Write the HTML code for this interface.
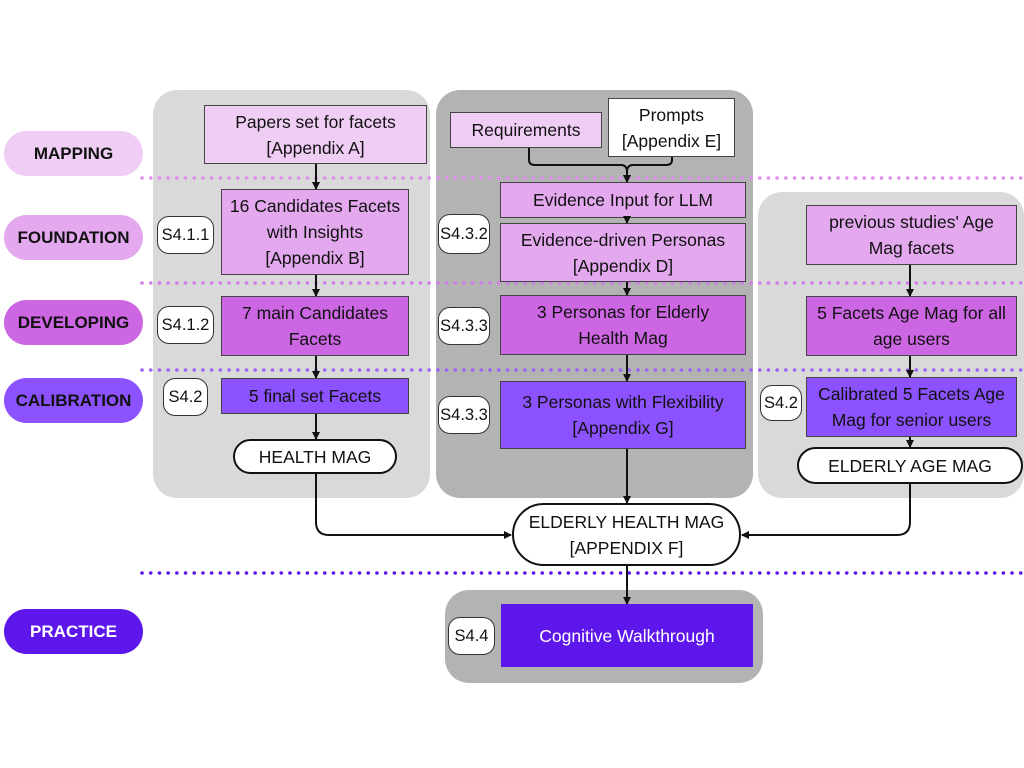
<!DOCTYPE html>
<html><head><meta charset="utf-8"><style>
body{margin:0;width:1024px;height:768px;background:#fff;position:relative;overflow:hidden;font-family:"Liberation Sans",sans-serif;}
div{position:absolute;box-sizing:border-box;}
.p{border-radius:24px;}
.lab{border-radius:23px;font-weight:bold;font-size:17px;display:flex;align-items:center;justify-content:center;color:#111;}
.b{border:1.5px solid #444;display:flex;align-items:center;justify-content:center;text-align:center;font-size:17.5px;line-height:26px;color:#111;}
.s{background:#fff;border:1.5px solid #333;border-radius:12px;display:flex;align-items:center;justify-content:center;font-size:16.5px;color:#111;}
.pill{background:#fff;border:2px solid #111;border-radius:20px;display:flex;align-items:center;justify-content:center;text-align:center;font-size:17.5px;line-height:26px;color:#111;}
.c1{background:#f0cdf5}.c2{background:#e3a8ee}.c3{background:#cc66e3}.c4{background:#8c52ff}.c5{background:#5e17eb}
</style></head><body>
<div class="p" style="left:153px;top:90px;width:277px;height:408px;background:#d9d9d9"></div>
<div class="p" style="left:436px;top:90px;width:317px;height:408px;background:#b3b3b3"></div>
<div class="p" style="left:758px;top:192px;width:266px;height:306px;background:#d9d9d9"></div>
<div class="p" style="left:445px;top:590px;width:318px;height:93px;background:#b3b3b3"></div>

<div class="lab c1" style="left:4px;top:131px;width:139px;height:45px">MAPPING</div>
<div class="lab c2" style="left:4px;top:215px;width:139px;height:45px">FOUNDATION</div>
<div class="lab c3" style="left:4px;top:300px;width:139px;height:45px">DEVELOPING</div>
<div class="lab c4" style="left:4px;top:378px;width:139px;height:45px">CALIBRATION</div>
<div class="lab c5" style="left:4px;top:609px;width:139px;height:45px;color:#fff">PRACTICE</div>

<svg width="1024" height="768" style="position:absolute;left:0;top:0">
<g stroke-linecap="round" stroke-width="3.5" stroke-dasharray="0.1 8.6" fill="none">
<line x1="142" y1="178" x2="1022" y2="178" stroke="#e08ef0"/>
<line x1="142" y1="283" x2="1022" y2="283" stroke="#d47ceb"/>
<line x1="142" y1="370" x2="1022" y2="370" stroke="#9c63f5"/>
<line x1="142" y1="573" x2="1022" y2="573" stroke="#5e17eb"/>
</g>
</svg>

<div class="b c1" style="left:204px;top:105px;width:223px;height:59px">Papers set for facets<br>[Appendix A]</div>
<div class="b c2" style="left:221px;top:189px;width:188px;height:86px">16 Candidates Facets<br>with Insights<br>[Appendix B]</div>
<div class="b c3" style="left:221px;top:296px;width:188px;height:60px">7 main Candidates<br>Facets</div>
<div class="b c4" style="left:221px;top:378px;width:188px;height:36px">5 final set Facets</div>
<div class="pill" style="left:233px;top:439px;width:164px;height:35px">HEALTH MAG</div>
<div class="s" style="left:157px;top:216px;width:57px;height:38px">S4.1.1</div>
<div class="s" style="left:157px;top:306px;width:57px;height:38px">S4.1.2</div>
<div class="s" style="left:163px;top:378px;width:45px;height:38px">S4.2</div>

<div class="b c1" style="left:450px;top:112px;width:152px;height:36px">Requirements</div>
<div class="b" style="left:608px;top:98px;width:127px;height:59px;background:#fff">Prompts<br>[Appendix E]</div>
<div class="b c2" style="left:500px;top:182px;width:246px;height:36px">Evidence Input for LLM</div>
<div class="b c2" style="left:500px;top:223px;width:246px;height:59px">Evidence-driven Personas<br>[Appendix D]</div>
<div class="b c3" style="left:500px;top:295px;width:246px;height:60px">3 Personas for Elderly<br>Health Mag</div>
<div class="b c4" style="left:500px;top:381px;width:246px;height:68px">3 Personas with Flexibility<br>[Appendix G]</div>
<div class="s" style="left:438px;top:214px;width:52px;height:40px">S4.3.2</div>
<div class="s" style="left:438px;top:307px;width:52px;height:38px">S4.3.3</div>
<div class="s" style="left:438px;top:396px;width:52px;height:38px">S4.3.3</div>

<div class="b c2" style="left:806px;top:205px;width:211px;height:60px">previous studies' Age<br>Mag facets</div>
<div class="b c3" style="left:806px;top:296px;width:211px;height:60px">5 Facets Age Mag for all<br>age users</div>
<div class="b c4" style="left:806px;top:377px;width:211px;height:60px">Calibrated 5 Facets Age<br>Mag for senior users</div>
<div class="s" style="left:760px;top:385px;width:42px;height:36px">S4.2</div>
<div class="pill" style="left:797px;top:447px;width:226px;height:37px">ELDERLY AGE MAG</div>

<div class="pill" style="left:512px;top:503px;width:229px;height:63px;border-radius:32px">ELDERLY HEALTH MAG<br>[APPENDIX F]</div>
<div class="b c5" style="left:501px;top:604px;width:252px;height:63px;color:#fff;border-color:#5e17eb">Cognitive Walkthrough</div>
<div class="s" style="left:448px;top:617px;width:47px;height:38px">S4.4</div>

<svg width="1024" height="768" style="position:absolute;left:0;top:0">
<defs><marker id="a" markerWidth="8" markerHeight="8" refX="7" refY="4" orient="auto" markerUnits="userSpaceOnUse"><path d="M0,0 L8,4 L0,8 z" fill="#111"/></marker></defs>
<g stroke="#111" stroke-width="2" fill="none" marker-end="url(#a)">
<line x1="316" y1="164" x2="316" y2="189"/>
<line x1="316" y1="275" x2="316" y2="296"/>
<line x1="316" y1="356" x2="316" y2="378"/>
<line x1="316" y1="414" x2="316" y2="439"/>
<path d="M316,474 V522 Q316,535 329,535 H511"/>
<path d="M910,484 V522 Q910,535 897,535 H742"/>
<line x1="627" y1="449" x2="627" y2="503"/>
<line x1="627" y1="566" x2="627" y2="604"/>
<path d="M529,148 V160 Q529,165 535,165 H621 Q627,165 627,172 V182"/>
<path d="M672,157 V160 Q672,165 666,165 H633 Q627,165 627,172 V182"/>
<line x1="627" y1="218" x2="627" y2="223"/>
<line x1="627" y1="282" x2="627" y2="295"/>
<line x1="627" y1="355" x2="627" y2="381"/>
<line x1="910" y1="265" x2="910" y2="296"/>
<line x1="910" y1="356" x2="910" y2="377"/>
<line x1="910" y1="437" x2="910" y2="447"/>
</g>
</svg>
</body></html>
